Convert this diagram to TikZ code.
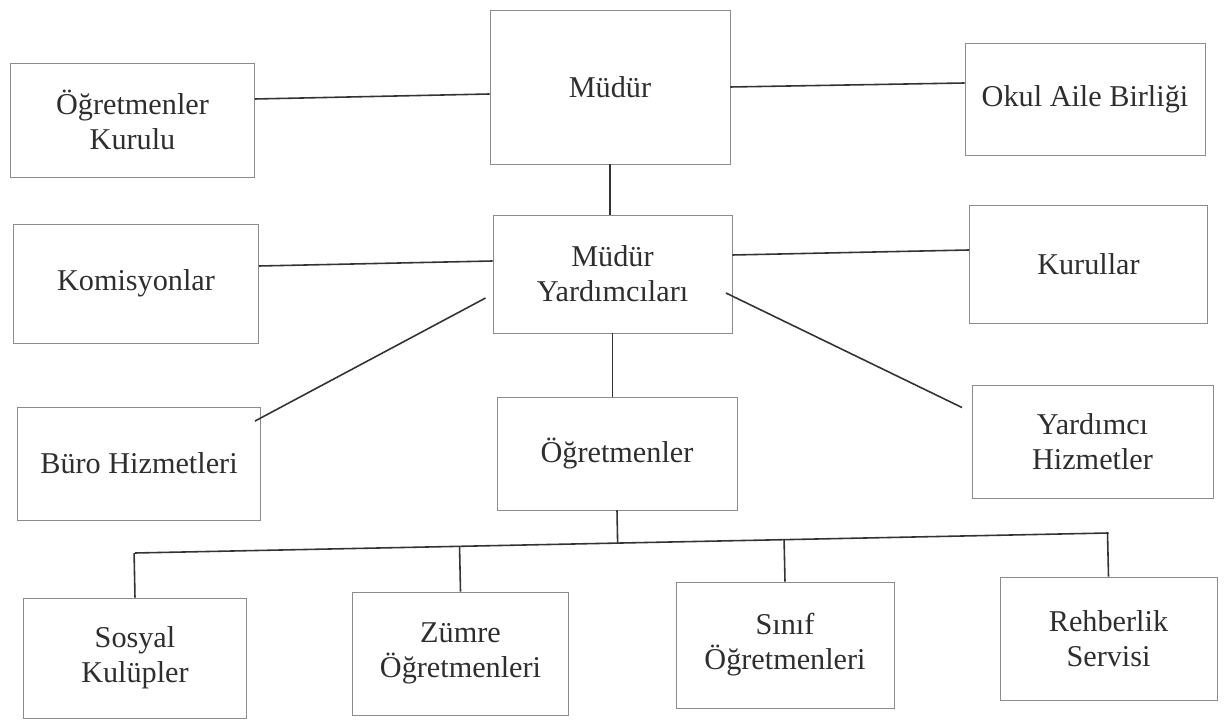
\documentclass[tikz,border=0pt]{standalone}
\usepackage{fontspec}
\setmainfont{Liberation Serif}
\usetikzlibrary{calc}

\begin{document}
\begin{tikzpicture}
		[inner sep=0pt,
		unit/.style	= {rectangle, draw=black!45, line width=0.5pt, align=center, text=black!82,
					   font=\fontsize{17.2pt}{20pt}\selectfont},
		link/.style	= {draw=black!80, line width=0.9pt}]
		
		\useasboundingbox (0, 0) rectangle (24.56, 14.4);
		
		\node at (2.65, 12.00)	[unit, minimum width=4.88cm, minimum height=2.28cm]	(okurul)	{Öğretmenler\\Kurulu};
		\node at (12.20, 12.66)	[unit, minimum width=4.80cm, minimum height=3.08cm]	(mudur)		{Müdür};
		\node at (21.70, 12.42)	[unit, minimum width=4.80cm, minimum height=2.24cm]	(oab)		{Okul Aile Birliği};
		
		\node at (2.72, 8.73)	[unit, minimum width=4.90cm, minimum height=2.38cm]	(komis)		{Komisyonlar};
		\node at (12.25, 8.92)	[unit, minimum width=4.78cm, minimum height=2.36cm]	(myard)		{Müdür\\Yardımcıları};
		\node at (21.77, 9.12)	[unit, minimum width=4.76cm, minimum height=2.36cm]	(kurul)		{Kurullar};
		
		\node at (2.78, 5.13)	[unit, minimum width=4.86cm, minimum height=2.26cm]	(buro)		{Büro Hizmetleri};
		\node at (12.34, 5.33)	[unit, minimum width=4.80cm, minimum height=2.26cm]	(ogret)		{Öğretmenler};
		\node at (21.85, 5.57)	[unit, minimum width=4.82cm, minimum height=2.26cm]	(yardh)		{Yardımcı\\Hizmetler};
		
		\node at (2.70, 1.24)	[unit, minimum width=4.46cm, minimum height=2.40cm]	(sosyal)	{Sosyal\\Kulüpler};
		\node at (9.21, 1.33)	[unit, minimum width=4.32cm, minimum height=2.46cm]	(zumre)		{Zümre\\Öğretmenleri};
		\node at (15.70, 1.50)	[unit, minimum width=4.36cm, minimum height=2.52cm]	(sinif)		{Sınıf\\Öğretmenleri};
		\node at (22.17, 1.63)	[unit, minimum width=4.34cm, minimum height=2.46cm]	(rehber)	{Rehberlik\\Servisi};
		
		\coordinate (busL) at (2.70, 3.34);
		\coordinate (busR) at (22.17, 3.74);
		
		\draw [link] ([yshift=0.42cm]okurul.east) -- ([yshift=-0.14cm]mudur.west);
		\draw [link] (mudur.east) -- ([yshift=0.32cm]oab.west);
		\draw [link] (mudur.south) -- (mudur.south |- myard.north);
		
		\draw [link] ([yshift=0.35cm]komis.east) -- ([yshift=0.26cm]myard.west);
		\draw [link] ([yshift=0.38cm]myard.east) -- ([yshift=0.28cm]kurul.west);
		
		\draw [link] ([xshift=-0.12cm, yshift=-0.29cm]buro.north east) -- ([xshift=-0.14cm, yshift=-0.48cm]myard.west);
		\draw [link] ([xshift=-0.13cm, yshift=-0.38cm]myard.east) -- ([xshift=-0.19cm, yshift=-0.46cm]yardh.north west);
		\draw [link] (myard.south) -- (myard.south |- ogret.north);
		
		\draw [link] (busL) -- (busR);
		\draw [link] (ogret.south) -- ($(busL)!(ogret.south)!(busR)$);
		\draw [link] (sosyal.north) -- ($(busL)!(sosyal.north)!(busR)$);
		\draw [link] (zumre.north) -- ($(busL)!(zumre.north)!(busR)$);
		\draw [link] (sinif.north) -- ($(busL)!(sinif.north)!(busR)$);
		\draw [link] (rehber.north) -- ($(busL)!(rehber.north)!(busR)$);
		
		\end{tikzpicture}
\end{document}
